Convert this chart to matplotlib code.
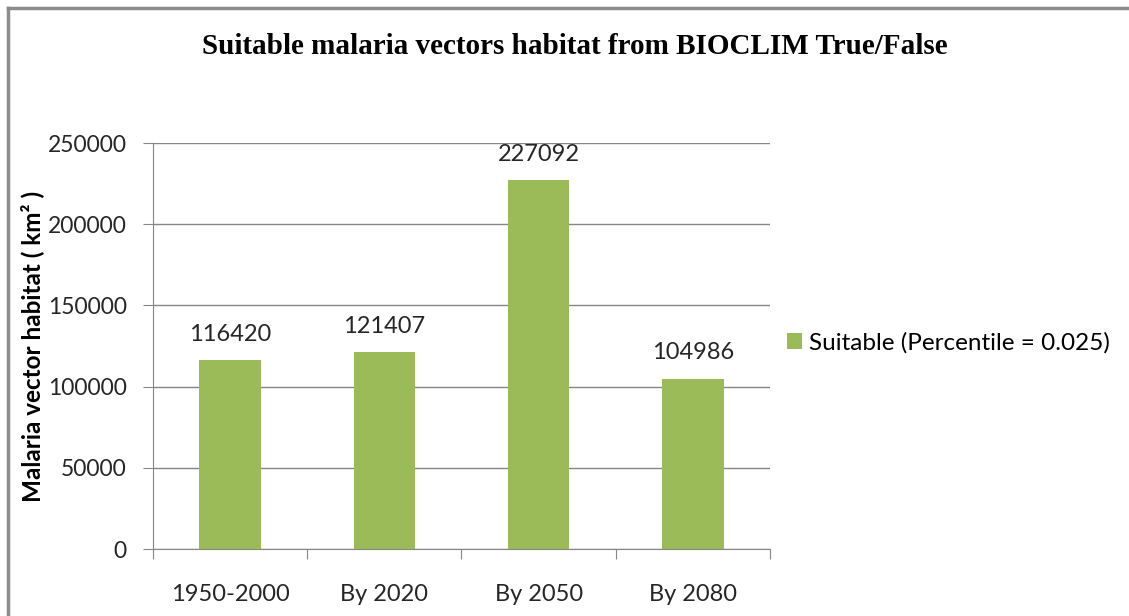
import numpy as np
import matplotlib.pyplot as plt
from matplotlib.lines import Line2D

periods = ['1950-2000', 'By 2020', 'By 2050', 'By 2080']
habitat_km2 = [116420, 121407, 227092, 104986]
y_ticks = [0, 50000, 100000, 150000, 200000, 250000]

green = '#9BBB59'
grid_col = '#868686'
txt_col = '#262626'
fs = 17

fig = plt.figure(figsize=(11.29, 6.16), dpi=100)
ax = fig.add_axes([153 / 1129, 1 - 549 / 616, 617 / 1129, 406 / 616])

x = np.arange(len(periods))
ax.bar(x, habitat_km2, width=0.4, color=green, zorder=3,
       label='Suitable (Percentile = 0.025)')
ax.set_xlim(-0.5, len(periods) - 0.5)
ax.set_ylim(0, 250000)

ax.set_yticks(y_ticks)
ax.set_yticklabels([str(v) for v in y_ticks], family='Lato', fontsize=16.5, color=txt_col)
ax.yaxis.grid(True, color=grid_col, lw=1, zorder=0)

# categories labelled in the middle, ticks at the boundaries
ax.set_xticks(np.arange(-0.5, len(periods)))
ax.set_xticklabels([])
ax.set_xticks(x, minor=True)
ax.set_xticklabels(periods, minor=True, family='Lato', fontsize=fs, color=txt_col)
ax.tick_params(axis='x', which='minor', length=0, pad=25)
ax.tick_params(axis='x', which='major', length=7, color=grid_col)
ax.tick_params(axis='y', length=7, color=grid_col, pad=12)

for s in ['top', 'right']:
    ax.spines[s].set_visible(False)
for s in ['left', 'bottom']:
    ax.spines[s].set_color(grid_col)

for xi, v in zip(x, habitat_km2):
    ax.annotate(str(v), (xi, v), xytext=(0, 11), textcoords='offset points',
                ha='center', va='bottom', family='Lato', fontsize=fs, color=txt_col)

ax.set_ylabel('Malaria vector habitat ( km\u00b2 )', family='Lato', fontweight='bold',
              fontsize=17.5, color='black')
ax.yaxis.set_label_coords((44 - 153) / 617, 0.5)

fig.text(575 / 1129, 1 - 47 / 616, 'Suitable malaria vectors habitat from BIOCLIM True/False',
         ha='center', va='center', family='Liberation Serif', fontweight='bold', fontsize=21)

ax.legend(loc='center left', bbox_to_anchor=(787 / 1129, 1 - 343 / 616),
          bbox_transform=fig.transFigure, frameon=False, borderpad=0, borderaxespad=0,
          handlelength=0.6, handleheight=0.6, handletextpad=0.3,
          prop={'family': 'Lato', 'size': 17.5})

# outer chart border (top and left visible)
fig.add_artist(Line2D([8 / 1129, 1], [1 - 8 / 616, 1 - 8 / 616], color='#8c8c8c', lw=2.5))
fig.add_artist(Line2D([8 / 1129, 8 / 1129], [0, 1 - 8 / 616], color='#8c8c8c', lw=2.5))

fig.savefig('out.png', dpi=100)
